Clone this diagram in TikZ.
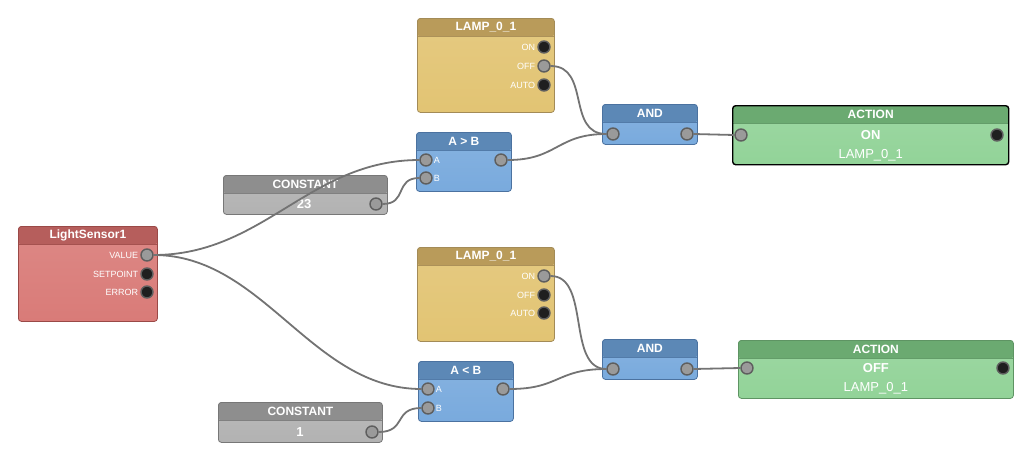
\documentclass[tikz,border=0pt]{standalone}
\usepackage{fontspec}
\setmainfont{Liberation Sans}
\usepackage{tikz}
\definecolor{sensorhead}{HTML}{B65E5C}
\definecolor{sensorbody}{HTML}{D97B78}
\definecolor{sensoredge}{HTML}{9A4947}
\definecolor{consthead}{HTML}{8E8E8E}
\definecolor{constbody}{HTML}{B2B2B2}
\definecolor{constedge}{HTML}{777777}
\definecolor{lamphead}{HTML}{B99B5A}
\definecolor{lampbody}{HTML}{E2C473}
\definecolor{lampedge}{HTML}{A38B57}
\definecolor{gatehead}{HTML}{5C88B6}
\definecolor{gatebody}{HTML}{79AADD}
\definecolor{gateedge}{HTML}{4B72A0}
\definecolor{acthead}{HTML}{6BAA71}
\definecolor{actbody}{HTML}{92D398}
\definecolor{actedge}{HTML}{5E9463}
\definecolor{portfill}{HTML}{9A9A9A}
\definecolor{portedge}{HTML}{5E5E5E}
\definecolor{wirecol}{HTML}{737373}

\begin{document}
\begin{tikzpicture}[x=1pt,y=-1pt,
  box/.style={draw=#1edge,line width=0.8pt,rounded corners=3pt,inner sep=0pt,anchor=north west,
    top color=#1body!90!white,bottom color=#1body,
    path picture={\fill[#1head] (path picture bounding box.north west) rectangle ([yshift=-18pt]path picture bounding box.north east);
      \draw[#1edge!60!#1head,line width=0.6pt] ([yshift=-18pt]path picture bounding box.north west) -- ([yshift=-18pt]path picture bounding box.north east);}},
  title/.style={text=white,font=\bfseries\fontsize{12}{14}\selectfont,inner sep=0pt},
  plabel/.style={text=white,font=\fontsize{9}{11}\selectfont,inner sep=0pt},
  value/.style={text=white,font=\bfseries\fontsize{13}{15}\selectfont,inner sep=0pt},
  sub/.style={text=white,font=\fontsize{13}{15}\selectfont,inner sep=0pt},
  port/.style={circle,draw=portedge,fill=portfill,line width=1.4pt,minimum size=12pt,inner sep=0pt},
  portoff/.style={port,fill=black!88},
  wire/.style={draw=wirecol,line width=1.8pt}]
\useasboundingbox (0,0) rectangle (1029,461);

\node[box=sensor,minimum width=139pt,minimum height=95pt] (sensor) at (18,226) {};
\node[title] (sensor-t) at ([yshift=-9pt]sensor.north) {LightSensor1};
\node[port] (sensor-value) at (147,255) {};
\node[portoff] (sensor-set) at (147,274) {};
\node[portoff] (sensor-err) at (147,292) {};
\node[plabel,anchor=east] at ([xshift=-2pt]sensor-value.west) {VALUE};
\node[plabel,anchor=east] at ([xshift=-2pt]sensor-set.west) {SETPOINT};
\node[plabel,anchor=east] at ([xshift=-2pt]sensor-err.west) {ERROR};

\node[box=const,minimum width=164pt,minimum height=39pt] (const23) at (223,175) {};
\node[title] (const23-t) at ([yshift=-9pt]const23.north) {CONSTANT};
\node[value] (const23-v) at (304,204) {23};
\node[port] (const23-out) at (376,204) {};

\node[box=const,minimum width=164pt,minimum height=40pt] (const1) at (218,402) {};
\node[title] (const1-t) at ([yshift=-9pt]const1.north) {CONSTANT};
\node[value] (const1-v) at (300,432) {1};
\node[port] (const1-out) at (372,432) {};

\node[box=lamp,minimum width=137pt,minimum height=94pt] (lamp1) at (417,18) {};
\node[title] (lamp1-t) at ([yshift=-9pt]lamp1.north) {LAMP\_0\_1};
\node[portoff] (lamp1-on) at (544,47) {};
\node[port] (lamp1-off) at (544,66) {};
\node[portoff] (lamp1-auto) at (544,85) {};
\node[plabel,anchor=east] at ([xshift=-2pt]lamp1-on.west) {ON};
\node[plabel,anchor=east] at ([xshift=-2pt]lamp1-off.west) {OFF};
\node[plabel,anchor=east] at ([xshift=-2pt]lamp1-auto.west) {AUTO};

\node[box=lamp,minimum width=137pt,minimum height=94pt] (lamp2) at (417,247) {};
\node[title] (lamp2-t) at ([yshift=-9pt]lamp2.north) {LAMP\_0\_1};
\node[port] (lamp2-on) at (544,276) {};
\node[portoff] (lamp2-off) at (544,295) {};
\node[portoff] (lamp2-auto) at (544,313) {};
\node[plabel,anchor=east] at ([xshift=-2pt]lamp2-on.west) {ON};
\node[plabel,anchor=east] at ([xshift=-2pt]lamp2-off.west) {OFF};
\node[plabel,anchor=east] at ([xshift=-2pt]lamp2-auto.west) {AUTO};

\node[box=gate,minimum width=95pt,minimum height=59pt] (gt) at (416,132) {};
\node[title] (gt-t) at ([yshift=-9pt]gt.north) {A > B};
\node[port] (gt-a) at (426,160) {};
\node[port] (gt-b) at (426,178) {};
\node[port] (gt-out) at (501,160) {};
\node[plabel,anchor=west] at ([xshift=1pt]gt-a.east) {A};
\node[plabel,anchor=west] at ([xshift=1pt]gt-b.east) {B};

\node[box=gate,minimum width=95pt,minimum height=60pt] (lt) at (418,361) {};
\node[title] (lt-t) at ([yshift=-9pt]lt.north) {A < B};
\node[port] (lt-a) at (428,389) {};
\node[port] (lt-b) at (428,408) {};
\node[port] (lt-out) at (503,389) {};
\node[plabel,anchor=west] at ([xshift=1pt]lt-a.east) {A};
\node[plabel,anchor=west] at ([xshift=1pt]lt-b.east) {B};

\node[box=gate,minimum width=95pt,minimum height=40pt] (and1) at (602,104) {};
\node[title] (and1-t) at ([yshift=-9pt]and1.north) {AND};
\node[port] (and1-in) at (613,134) {};
\node[port] (and1-out) at (687,134) {};

\node[box=gate,minimum width=95pt,minimum height=40pt] (and2) at (602,339) {};
\node[title] (and2-t) at ([yshift=-9pt]and2.north) {AND};
\node[port] (and2-in) at (613,369) {};
\node[port] (and2-out) at (687,369) {};

\node[box=act,draw=black,line width=1.4pt,minimum width=276pt,minimum height=59pt] (act1) at (732,105) {};
\node[title] (act1-t) at ([yshift=-9pt]act1.north) {ACTION};
\node[value] (act1-v) at (act1.center |- 0,135) {ON};
\node[sub] (act1-l) at (act1.center |- 0,155) {LAMP\_0\_1};
\node[port] (act1-in) at (741,135) {};
\node[portoff] (act1-out) at (997,135) {};

\node[box=act,minimum width=275pt,minimum height=58pt] (act2) at (738,340) {};
\node[title] (act2-t) at ([yshift=-9pt]act2.north) {ACTION};
\node[value] (act2-v) at (act2.center |- 0,368) {OFF};
\node[sub] (act2-l) at (act2.center |- 0,388) {LAMP\_0\_1};
\node[port] (act2-in) at (747,368) {};
\node[portoff] (act2-out) at (1003,368) {};

\draw[wire] (sensor-value.east) .. controls +(110,0) and +(-110,0) .. (gt-a.west);
\draw[wire] (sensor-value.east) .. controls +(110,0) and +(-110,0) .. (lt-a.west);
\draw[wire] (const23-out.east) .. controls +(25,0) and +(-25,0) .. (gt-b.west);
\draw[wire] (const1-out.east) .. controls +(28,0) and +(-28,0) .. (lt-b.west);
\draw[wire] (gt-out.east) .. controls +(50,0) and +(-50,0) .. (and1-in.west);
\draw[wire] (lamp1-off.east) .. controls +(40,0) and +(-40,0) .. (and1-in.west);
\draw[wire] (and1-out.east) -- (act1-in.west);
\draw[wire] (lt-out.east) .. controls +(50,0) and +(-50,0) .. (and2-in.west);
\draw[wire] (lamp2-on.east) .. controls +(40,0) and +(-40,0) .. (and2-in.west);
\draw[wire] (and2-out.east) -- (act2-in.west);
\end{tikzpicture}
\end{document}
